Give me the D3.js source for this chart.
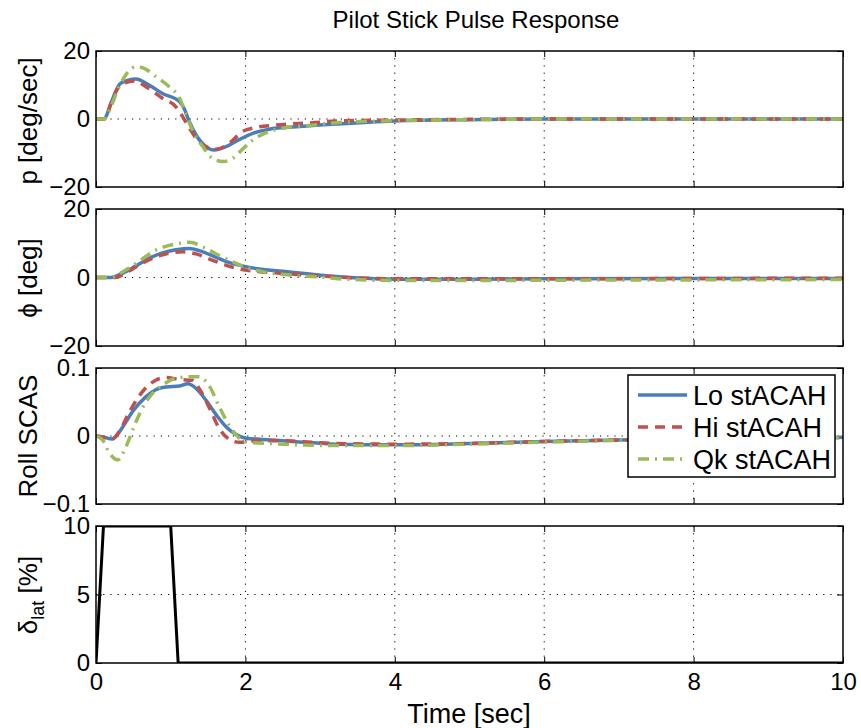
<!DOCTYPE html>
<html>
<head>
<meta charset="utf-8" />
<title>Pilot Stick Pulse Response</title>
<script src="https://d3js.org/d3.v7.min.js"></script>
<style>
  body { margin: 0; background: #fff; }
  svg text { font-family: "Liberation Sans", Arial, sans-serif; fill: #000; }
  .axis path { display: none; }
  .axis line { stroke: #000; stroke-width: 1; }
  .grid line { stroke: #000; stroke-width: 1; stroke-dasharray: 1.2,6; }
  .frame { fill: none; stroke: #000; stroke-width: 1.5; }
  .line { fill: none; }
</style>
</head>
<body>
<svg width="861" height="728"></svg>
<script>

// time axis
var xTicks = [0, 2, 4, 6, 8, 10];

// p [deg/sec]
var pLoT = [0,0.11,0.15,0.2,0.33,0.535,0.71,0.89,1.12,1.18,1.25,1.34,1.47,1.58,1.74,1.92,2.1,2.32,2.68,3.21,4.07,5,6,8,10];
var pLo  = [0,0,1.5,4.6,10.5,11.8,10,7.5,5.1,3.1,-0.8,-4.7,-8.1,-9.1,-8.1,-6,-4.2,-3,-2.3,-1.5,-0.5,-0.2,0,0,0];
var pHiT = [0,0.11,0.15,0.2,0.33,0.51,0.67,0.89,1.07,1.16,1.25,1.38,1.52,1.61,1.78,1.96,2.14,2.41,2.9,3.21,4,5,6,10];
var pHi  = [0,0,1.5,4.6,10,11.2,9.5,6.1,3.6,0.7,-2.7,-6.7,-8.6,-8.9,-7.2,-3.7,-2.5,-1.8,-1.1,-0.6,-0.3,-0.1,0,0];
var pQkT = [0,0.11,0.15,0.2,0.31,0.45,0.535,0.67,0.8,0.98,1.12,1.2,1.29,1.43,1.56,1.7,1.83,1.96,2.1,2.28,2.5,2.9,3.21,4,5,6,10];
var pQk  = [0,0,1.2,3.6,9.5,14.4,15.4,14.6,12.5,9.5,6.1,1.7,-3.2,-8.1,-11.6,-12.5,-11.6,-8.9,-6.2,-4,-2.7,-1.8,-1.1,-0.5,-0.2,0,0];

// phi [deg]
var phiLoT = [0,0.2,0.36,0.535,0.71,0.89,1.07,1.25,1.43,1.61,1.78,1.96,2.14,2.5,2.86,3.21,3.6,4.1,5,6,8,10];
var phiLo  = [0,0,1.3,3.4,5.6,7.2,8.1,8.5,7.5,5.9,4.4,3.4,2.6,1.8,1.0,0.3,-0.2,-0.5,-0.5,-0.4,-0.3,-0.3];
var phiHiT = [0,0.25,0.45,0.62,0.89,1.16,1.34,1.52,1.7,1.92,2.14,2.5,3.21,3.6,4.1,5,6,8,10];
var phiHi  = [0,0,2,4.2,6.6,7.5,6.9,5.4,3.9,2.5,1.8,1.2,0.2,-0.2,-0.4,-0.4,-0.4,-0.3,-0.2];
var phiQkT = [0,0.2,0.36,0.535,0.8,1.07,1.25,1.47,1.65,1.83,2.01,2.23,2.59,2.95,3.21,3.6,4.1,5,6,8,10];
var phiQk  = [0,0,1.7,4.1,8,9.8,10.3,8.5,6.4,4.6,2.9,1.7,0.7,0.2,-0.3,-0.7,-0.9,-0.9,-0.8,-0.7,-0.6];

// Roll SCAS
var scasLoT = [0,0.09,0.22,0.36,0.49,0.67,0.8,0.94,1.12,1.23,1.34,1.47,1.61,1.74,1.87,2.01,2.23,2.68,3.21,4,5,6,7,8,9,10];
var scasLo  = [0,-0.0015,-0.0045,0.0137,0.036,0.058,0.068,0.072,0.0735,0.077,0.07,0.053,0.031,0.0137,0.0025,-0.0034,-0.005,-0.0083,-0.012,-0.013,-0.011,-0.008,-0.006,-0.0045,-0.003,-0.002];
var scasHiT = [0,0.13,0.22,0.31,0.45,0.62,0.8,0.94,1.12,1.29,1.38,1.52,1.65,1.78,1.92,2.1,2.45,3.21,4,5,6,7,8,9,10];
var scasHi  = [0,-0.0025,-0.004,0.0064,0.036,0.065,0.082,0.086,0.083,0.082,0.07,0.041,0.011,-0.0045,-0.0093,-0.0074,-0.007,-0.011,-0.012,-0.011,-0.008,-0.006,-0.0045,-0.003,-0.002];
var scasQkT = [0,0.09,0.18,0.29,0.4,0.51,0.62,0.76,0.89,1.07,1.25,1.38,1.52,1.65,1.78,1.92,2.05,2.32,3.21,4,5,6,7,8,9,10];
var scasQk  = [0,-0.006,-0.025,-0.035,-0.016,0.014,0.041,0.063,0.075,0.085,0.087,0.087,0.073,0.043,0.016,-0.0034,-0.0093,-0.011,-0.014,-0.014,-0.012,-0.009,-0.0065,-0.0045,-0.003,-0.002];

// delta_lat [%]
var dLatT = [0, 0.1, 1.0, 1.1, 10];
var dLat  = [0, 10, 10, 0, 0];

var seriesNames = ["Lo stACAH", "Hi stACAH", "Qk stACAH"];
var colors = ["#4a7ebb", "#c0504d", "#9bbb59"];
var dashes = [null, "10,7", "11,6,2,6"];

function zip(t, v) { return t.map(function (d, i) { return [d, v[i]]; }); }

var panels = [
    { top: 51,  bottom: 187, domain: [-20, 20],   ticks: [-20, 0, 20],    grid: 0,
      series: [zip(pLoT, pLo), zip(pHiT, pHi), zip(pQkT, pQk)] },
    { top: 209, bottom: 346, domain: [-20, 20],   ticks: [-20, 0, 20],    grid: 0,
      series: [zip(phiLoT, phiLo), zip(phiHiT, phiHi), zip(phiQkT, phiQk)] },
    { top: 368, bottom: 504, domain: [-0.1, 0.1], ticks: [-0.1, 0, 0.1], grid: 0,
      series: [zip(scasLoT, scasLo), zip(scasHiT, scasHi), zip(scasQkT, scasQk)] },
    { top: 526, bottom: 663, domain: [0, 10],     ticks: [0, 5, 10],      grid: 5,
      series: [zip(dLatT, dLat)], black: true }
];

var svg = d3.select("svg");
var left = 96, right = 843;
var x = d3.scaleLinear().domain([0, 10]).range([left, right]);

svg.append("text")
    .attr("x", 476).attr("y", 28)
    .attr("text-anchor", "middle").style("font-size", "24px")
    .text("Pilot Stick Pulse Response");

panels.forEach(function (p, pi) {
    var y = d3.scaleLinear().domain(p.domain).range([p.bottom, p.top]);
    var g = svg.append("g");
    var clipId = "clip" + pi;
    svg.append("clipPath").attr("id", clipId).append("rect")
        .attr("x", left).attr("y", p.top).attr("width", right - left).attr("height", p.bottom - p.top);

    // dotted grid
    var grid = g.append("g").attr("class", "grid");
    grid.selectAll(".gx").data(xTicks.slice(1, -1)).enter().append("line")
        .attr("x1", function (d) { return x(d); }).attr("x2", function (d) { return x(d); })
        .attr("y1", p.top).attr("y2", p.bottom);
    grid.append("line")
        .attr("x1", left).attr("x2", right)
        .attr("y1", y(p.grid)).attr("y2", y(p.grid));

    // inward ticks on all four sides
    g.append("g").attr("class", "axis").attr("transform", "translate(" + left + ",0)")
        .call(d3.axisLeft(y).tickValues(p.ticks).tickSize(-6).tickPadding(6).tickFormat(d3.format("")))
        .selectAll("text").style("font-size", "24px");
    g.append("g").attr("class", "axis").attr("transform", "translate(" + right + ",0)")
        .call(d3.axisRight(y).tickValues(p.ticks).tickSize(-6).tickFormat(""));
    g.append("g").attr("class", "axis").attr("transform", "translate(0," + p.top + ")")
        .call(d3.axisTop(x).tickValues(xTicks).tickSize(-6).tickFormat(""));
    var bx = g.append("g").attr("class", "axis").attr("transform", "translate(0," + p.bottom + ")");
    if (pi === panels.length - 1) {
        bx.call(d3.axisBottom(x).tickValues(xTicks).tickSize(-6).tickPadding(10).tickFormat(d3.format("d")))
          .selectAll("text").style("font-size", "24px");
    } else {
        bx.call(d3.axisBottom(x).tickValues(xTicks).tickSize(-6).tickFormat(""));
    }

    var line = d3.line()
        .x(function (d) { return x(d[0]); })
        .y(function (d) { return y(d[1]); })
        .curve(p.black ? d3.curveLinear : d3.curveMonotoneX);

    var lines = g.append("g").attr("clip-path", "url(#" + clipId + ")");
    p.series.forEach(function (s, si) {
        lines.append("path")
            .datum(s)
            .attr("class", "line")
            .attr("d", line)
            .attr("stroke", p.black ? "#000" : colors[si])
            .attr("stroke-width", p.black ? 3 : 3.5)
            .attr("stroke-dasharray", p.black ? null : dashes[si]);
    });

    g.append("rect").attr("class", "frame")
        .attr("x", left).attr("y", p.top)
        .attr("width", right - left).attr("height", p.bottom - p.top);
});

// y labels
var ylab = [
    { y: 121, parts: [["p [deg/sec]", null]] },
    { y: 278, parts: [["\u03D5 [deg]", null]] },
    { y: 436, parts: [["Roll SCAS", null]] },
    { y: 595, parts: [["\u03B4", null], ["lat", "sub"], [" [%]", null]] }
];
ylab.forEach(function (l) {
    var t = svg.append("text")
        .attr("transform", "translate(37," + l.y + ") rotate(-90)")
        .attr("text-anchor", "middle").style("font-size", "26px");
    l.parts.forEach(function (pt) {
        var ts = t.append("tspan").text(pt[0]);
        if (pt[1] === "sub") ts.attr("dy", 7).style("font-size", "18px");
        else if (t.selectAll("tspan").size() > 1) ts.attr("dy", -7);
    });
});

svg.append("text")
    .attr("x", 469).attr("y", 723)
    .attr("text-anchor", "middle").style("font-size", "27px")
    .text("Time [sec]");

// legend
var lg = svg.append("g").attr("transform", "translate(628,375)");
lg.append("rect").attr("width", 207).attr("height", 102)
    .attr("fill", "#fff").attr("stroke", "#000").attr("stroke-width", 1.5);
seriesNames.forEach(function (n, i) {
    var yy = 20 + i * 32;
    lg.append("line").attr("x1", 10).attr("x2", 59).attr("y1", yy).attr("y2", yy)
        .attr("stroke", colors[i]).attr("stroke-width", 3.5)
        .attr("stroke-dasharray", dashes[i]);
    lg.append("text").attr("x", 65).attr("y", yy + 10).style("font-size", "27px").text(n);
});
</script>
</body>
</html>
